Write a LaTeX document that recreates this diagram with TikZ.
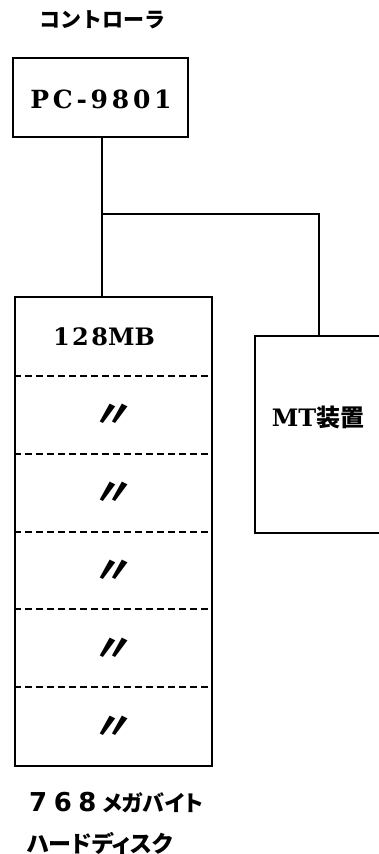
\documentclass[tikz,border=0pt]{standalone}
\usepackage{fontspec}
\setmainfont{DejaVu Serif}
\newfontfamily\cjk{Noto Sans CJK JP}
\newfontfamily\cjkp{Noto Sans CJK JP}[RawFeature=+palt]
\newfontfamily\sansdig{DejaVu Sans}[LetterSpace=25]
\newfontfamily\serifls{DejaVu Serif}[LetterSpace=15]
\newfontfamily\seriflsm{DejaVu Serif}[LetterSpace=10]
\begin{document}
\begin{tikzpicture}[x=1pt,y=-1pt,
  box/.style={draw,line width=1.6pt},
  wire/.style={line width=1.3pt},
  sep/.style={line width=1.5pt,dash pattern=on 7pt off 4pt},
  ditto/.style={font=\cjk\bfseries\fontsize{38}{38}\selectfont,inner sep=0pt,xslant=0.2},
  lbl/.style={inner sep=0pt}]
\useasboundingbox (0,0) rectangle (379,854);
\clip (0,0) rectangle (379,854);
% title
\node[lbl,font=\cjk\bfseries\fontsize{21}{21}\selectfont] (ctl) at (102,20) {コントローラ};
% PC box
\node[box,minimum width=175pt,minimum height=79pt,inner sep=0pt] (pc) at (100.5,97.5) {};
\node[lbl,font=\serifls\bfseries\fontsize{25}{25}\selectfont] (pct) at (101,99) {PC-9801};
% HDD box
\node[box,minimum width=197pt,minimum height=469pt,inner sep=0pt,anchor=north west] (hdd) at (14,296) {};
\coordinate (d1l) at (14,376); \coordinate (d1r) at (211,376);
\coordinate (d2l) at (14,454); \coordinate (d2r) at (211,454);
\coordinate (d3l) at (14,532); \coordinate (d3r) at (211,532);
\coordinate (d4l) at (14,609); \coordinate (d4r) at (211,609);
\coordinate (d5l) at (14,687); \coordinate (d5r) at (211,687);
\draw[sep] (d1l) -- (d1r);
\draw[sep] (d2l) -- (d2r);
\draw[sep] (d3l) -- (d3r);
\draw[sep] (d4l) -- (d4r);
\draw[sep] (d5l) -- (d5r);
\node[lbl,font=\bfseries\fontsize{24}{24}\selectfont] (mb) at (104,337) {{\seriflsm\bfseries 128}MB};
\node[ditto] (r2) at (114,416) {〃};
\node[ditto] (r3) at (114,494) {〃};
\node[ditto] (r4) at (114,572) {〃};
\node[ditto] (r5) at (114,650) {〃};
\node[ditto] (r6) at (114,728) {〃};
% MT box
\node[box,minimum width=140pt,minimum height=197pt,inner sep=0pt,anchor=north west] (mt) at (254,335) {};
\node[lbl,font=\bfseries\fontsize{24}{24}\selectfont] (mtt) at (318,417) {MT{\cjk\bfseries\fontsize{24}{24}\selectfont 装置}};
% connectors
\coordinate (j) at (102,214);
\coordinate (jr) at (319,214);
\draw[wire] (pc.south -| j) -- (j) -- (hdd.north -| j);
\draw[wire] (j) -- (jr) -- (mt.north -| jr);
% bottom labels
\node[lbl,anchor=west] (cap) at (29,803) {{\sansdig\bfseries\fontsize{26}{26}\selectfont 768}\hspace{6pt}{\cjkp\bfseries\fontsize{22}{22}\selectfont メガバイト}};
\node[lbl,anchor=west,font=\cjkp\bfseries\fontsize{23}{23}\selectfont] (hd) at (27,843) {ハードディスク};
\end{tikzpicture}
\end{document}
